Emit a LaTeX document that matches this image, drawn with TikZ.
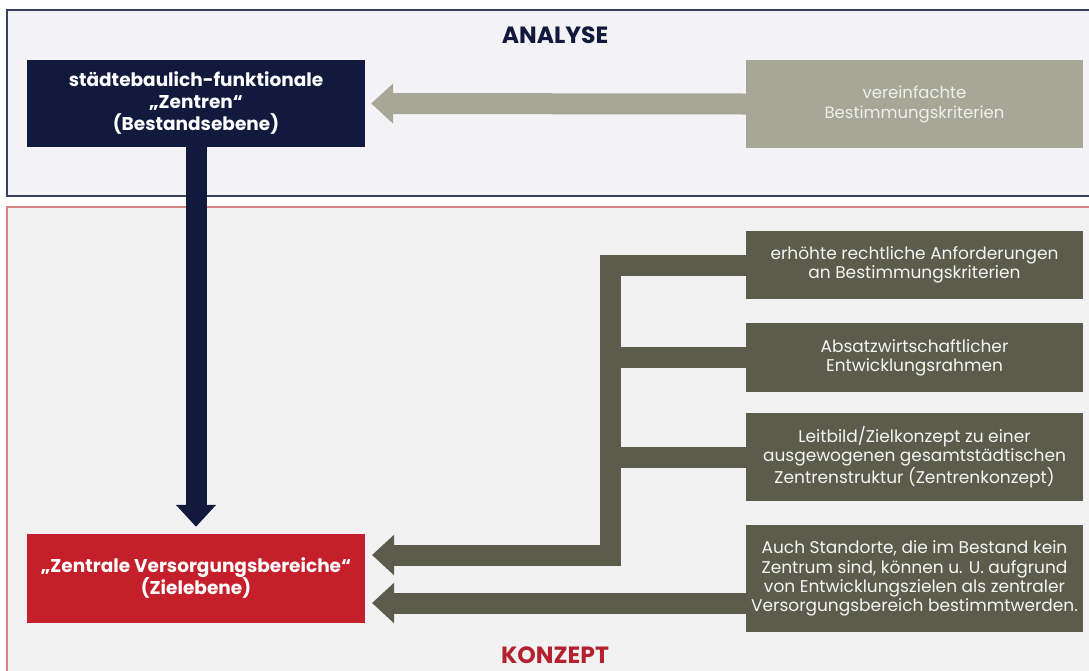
\documentclass[tikz,border=0pt]{standalone}
\usepackage{fontspec}
\setmainfont{Poppins}
\usetikzlibrary{arrows.meta,calc}
\definecolor{navy}{HTML}{111A3D}
\definecolor{zred}{HTML}{C41F2B}
\definecolor{olive}{HTML}{5B5C4C}
\definecolor{lgrey}{HTML}{A6A796}
\definecolor{topfill}{HTML}{F3F3F5}
\definecolor{topline}{HTML}{3A3F60}
\definecolor{botfill}{HTML}{F2F2F2}
\definecolor{botline}{HTML}{D8837F}
\definecolor{titlered}{HTML}{B3222E}
\tikzset{
  mainbox/.style={minimum width=338pt, inner sep=0pt, align=center, text=white,
    font=\bfseries\fontsize{18.5}{22}\selectfont},
  sidebox/.style={fill=olive, minimum width=337pt, inner sep=0pt, align=center,
    text=white!93!olive, font=\fontsize{17}{19.2}\selectfont},
  thickarrow/.style={line width=21pt, line join=miter,
    -{Triangle[width=39pt,length=22pt]}},
  oline/.style={draw=olive, line width=21pt, line join=miter},
  title/.style={font=\bfseries\fontsize{23.5}{26}\selectfont}
}
\begin{document}
\begin{tikzpicture}[x=1pt,y=-1pt]
\useasboundingbox (0,0) rectangle (1089,670);
\clip (0,0) rectangle (1089,670);
\fill[white] (0,0) rectangle (1089,670);
% panels
\draw[topline, line width=1.3pt, fill=topfill] (7,10) rectangle (1100,196);
\draw[botline, line width=1.3pt, fill=botfill] (7,207) rectangle (1100,690);
% titles
\node[title, text=navy] (analyse) at (555,35) {ANALYSE};
\node[title, text=titlered] (konzept) at (555,655) {KONZEPT};
% main boxes
\node[mainbox, fill=navy, minimum height=87pt] (bestand) at (196,103.5)
  {städtebaulich-funktionale\\„Zentren“\\(Bestandsebene)};
\node[mainbox, fill=zred, minimum height=89pt] (ziel) at (196,578.5)
  {„Zentrale Versorgungsbereiche“\\(Zielebene)};
% side boxes
\node[sidebox, fill=lgrey, text=white!82!lgrey, minimum height=88pt,
  font=\fontsize{16.5}{20}\selectfont] (verein) at (914.5,104)
  {vereinfachte\\Bestimmungskriterien};
\node[sidebox, minimum height=68pt] (b1) at (914.5,265)
  {erhöhte rechtliche Anforderungen\\an Bestimmungskriterien};
\node[sidebox, minimum height=69pt] (b2) at (914.5,357.5)
  {Absatzwirtschaftlicher\\Entwicklungsrahmen};
\node[sidebox, minimum height=88pt] (b3) at (914.5,457)
  {Leitbild/Zielkonzept zu einer\\ausgewogenen gesamtstädtischen\\Zentrenstruktur (Zentrenkonzept)};
\node[sidebox, minimum height=107pt] (b4) at (914.5,578.5)
  {Auch Standorte, die im Bestand kein\\Zentrum sind, können u. U. aufgrund\\von Entwicklungszielen als zentraler\\Versorgungsbereich bestimmtwerden.};
% junction coordinates
\coordinate (j) at (610,555);
\coordinate (r1) at (365,555);
\coordinate (r2) at (365,603);
% connectors
\draw[thickarrow, draw=lgrey, shorten >=6pt] (verein.west) -- (bestand.east);
\draw[thickarrow, draw=navy, shorten >=7pt] (bestand.south) -- (ziel.north);
\draw[oline] (b2.west) -- (b2.west -| j);
\draw[oline] (b3.west) -- (b3.west -| j);
\draw[thickarrow, draw=olive, shorten >=7pt] (b1.west) -| (j) -- (r1);
\draw[thickarrow, draw=olive, shorten >=7pt] (b4.west |- r2) -- (r2);
\end{tikzpicture}
\end{document}
